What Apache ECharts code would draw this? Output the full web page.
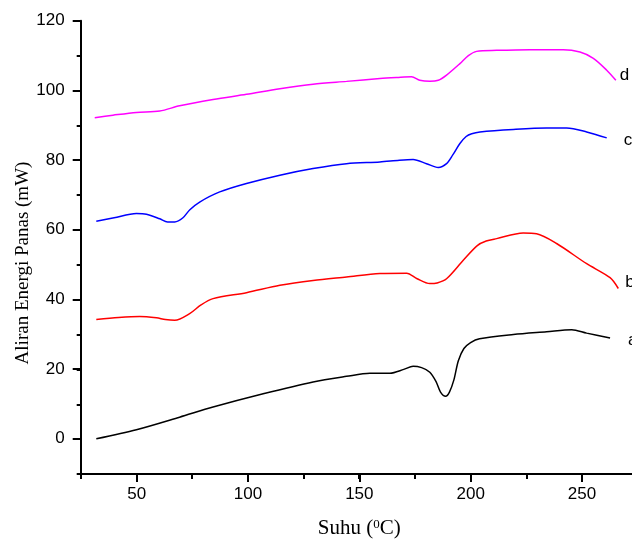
<!DOCTYPE html>
<html>
<head>
<meta charset="utf-8">
<script src="https://cdn.jsdelivr.net/npm/echarts@6/dist/echarts.min.js"></script>
<style>html,body{margin:0;padding:0;background:#fff}#c{width:632px;height:542px}</style>
</head>
<body>
<div id="c"></div>
<script>
// Data (temperature in °C, heat flow in mW)
const aTemp = [32, 50, 69.4, 84.4, 106.9, 129.3, 144.3, 154.8, 163.8, 170, 174.2, 178, 181.7, 184.5, 186.5, 188.8, 190.5, 192.5, 194.5, 197, 200, 204, 219.2, 234.1, 245.4, 252.1, 262.6];
const aVal  = [0.1, 2.7, 6.3, 9.2, 13.0, 16.4, 18.0, 18.9, 18.9, 20.0, 20.9, 20.5, 19.2, 16.5, 13.5, 12.3, 13.5, 17.0, 22.5, 26.0, 27.7, 28.8, 30.0, 30.8, 31.4, 30.4, 29.0];

const bTemp = [32, 42, 51.5, 59, 63, 67.2, 73.9, 79, 84.4, 99.4, 114.4, 129.3, 144.3, 159.3, 171.3, 176, 181.7, 185, 189.2, 196.7, 203, 207, 211.7, 223.6, 229.6, 238.6, 252.1, 262.6, 266.3];
const bVal  = [34.3, 34.9, 35.2, 34.8, 34.3, 34.1, 36.0, 38.5, 40.3, 42.0, 44.1, 45.5, 46.5, 47.5, 47.6, 46.0, 44.6, 44.8, 46.0, 51.3, 55.5, 56.8, 57.5, 59.1, 58.9, 56.1, 50.3, 46.3, 43.2];

const cTemp = [32, 40, 50, 54.5, 60.5, 64, 67.2, 70.9, 74, 78.4, 87.4, 99.4, 114.4, 129.3, 144.3, 159.3, 168, 174.2, 180.2, 185.5, 189.2, 192, 195.2, 198, 200.5, 204.2, 219.2, 234.1, 243.1, 252.1, 261.1];
const cVal  = [62.5, 63.5, 64.7, 64.5, 63.2, 62.3, 62.3, 63.5, 65.8, 68.0, 70.9, 73.3, 75.7, 77.6, 79.0, 79.5, 80.0, 80.2, 79.0, 77.9, 79.0, 81.5, 84.8, 86.8, 87.6, 88.1, 88.8, 89.2, 89.2, 88.1, 86.4];

const dTemp = [31.3, 39.5, 50, 60.5, 69.4, 84.4, 99.4, 114.4, 129.3, 144.3, 159.3, 167, 173.5, 177.2, 181.7, 185.5, 189.2, 195.2, 199, 202.7, 211.7, 226.6, 241.6, 249.1, 255.1, 261.1, 265.2];
const dVal  = [92.2, 92.9, 93.7, 94.1, 95.6, 97.4, 98.9, 100.5, 101.8, 102.6, 103.4, 103.7, 103.9, 102.9, 102.6, 102.9, 104.4, 107.7, 110.0, 111.2, 111.5, 111.7, 111.7, 111.0, 109.2, 105.8, 102.9];

const seriesNames = ['a', 'b', 'c', 'd'];
const xTitle = 'Suhu (';
const yTitle = 'Aliran Energi Panas (mW)';

const pair = (t, v) => t.map((x, i) => [x, v[i]]);
const sans = 'Liberation Sans, Arial, sans-serif';
const serif = 'Liberation Serif, Times New Roman, serif';
const axisLine = {show: true, onZero: false, lineStyle: {color: '#000', width: 2}};

function mkSeries(name, data, color, dist, dy) {
  return {
    type: 'line', name, data, xAxisIndex: 0, yAxisIndex: 0,
    smooth: 0.3, showSymbol: false, symbol: 'none',
    lineStyle: {color, width: 1.5},
    endLabel: {show: true, formatter: name, color: '#000', fontSize: 17, fontFamily: sans,
               distance: dist, offset: [0, dy]},
    animation: false
  };
}

const chart = echarts.init(document.getElementById('c'), null, {renderer: 'canvas'});
chart.setOption({
  animation: false,
  backgroundColor: '#fff',
  grid: [
    {left: 80.7, right: -5.7, top: 20.7, bottom: 68, outerBoundsMode: 'none', containLabel: false},
    {left: 80.7, right: -5.7, top: 20.7, bottom: 103.3, outerBoundsMode: 'none', containLabel: false},
    {left: 136.7, right: 50, top: 20.7, bottom: 68, outerBoundsMode: 'none', containLabel: false}
  ],
  xAxis: [
    {gridIndex: 0, type: 'value', min: 25, max: 275, interval: 25,
     axisLine, axisTick: {show: true, length: 5, lineStyle: {color: '#000', width: 2}},
     axisLabel: {show: false}, splitLine: {show: false},
     name: '{t|' + xTitle + '}{s|0}{t|C)}', nameLocation: 'middle', nameGap: 44,
     nameTextStyle: {rich: {
       t: {fontSize: 21, fontFamily: serif, color: '#000'},
       s: {fontSize: 13, fontFamily: serif, color: '#000', verticalAlign: 'top'}
     }}},
    {gridIndex: 1, type: 'value', show: false, min: 25, max: 275},
    {gridIndex: 2, type: 'value', min: 50, max: 250, interval: 50,
     axisLine: {show: false, onZero: false},
     axisTick: {show: true, length: 8, lineStyle: {color: '#000', width: 2}},
     axisLabel: {show: true, margin: 12, fontSize: 17, fontFamily: sans, color: '#000'},
     splitLine: {show: false}}
  ],
  yAxis: [
    {gridIndex: 0, type: 'value', min: -10, max: 120, interval: 10,
     axisLine, axisTick: {show: true, length: 4, lineStyle: {color: '#000', width: 2}},
     axisLabel: {show: false}, splitLine: {show: false}},
    {gridIndex: 1, type: 'value', min: 0, max: 120, interval: 20,
     axisLine: {show: false, onZero: false},
     axisTick: {show: true, length: 8, lineStyle: {color: '#000', width: 2}},
     axisLabel: {show: true, margin: 16, fontSize: 17, fontFamily: sans, color: '#000'},
     splitLine: {show: false}},
    {gridIndex: 2, type: 'value', show: false, min: 0, max: 1}
  ],
  graphic: [{
    type: 'text', x: 23, y: 263, rotation: Math.PI / 2,
    style: {text: yTitle, fontSize: 19, fontFamily: serif, fill: '#000',
            align: 'center', verticalAlign: 'middle'}
  }],
  series: [
    mkSeries(seriesNames[0], pair(aTemp, aVal), '#000000', 18, 2),
    mkSeries(seriesNames[1], pair(bTemp, bVal), '#ff0000', 7, -6),
    mkSeries(seriesNames[2], pair(cTemp, cVal), '#0000ff', 17, 2),
    mkSeries(seriesNames[3], pair(dTemp, dVal), '#ff00ff', 4, -5)
  ]
});
</script>
</body>
</html>
